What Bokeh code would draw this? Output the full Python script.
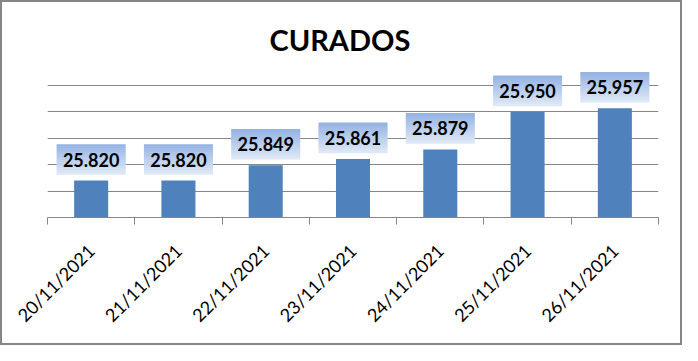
from math import pi
from bokeh.plotting import figure
from bokeh.models import (FactorRange, Range1d, LinearAxis, CategoricalAxis,
                          FixedTicker, Grid, ColumnDataSource, CustomLabelingPolicy)
from bokeh.core.properties import value
from bokeh.embed import file_html
from bokeh.resources import INLINE

# ---- data ----
dates = ["20/11/2021", "21/11/2021", "22/11/2021", "23/11/2021",
         "24/11/2021", "25/11/2021", "26/11/2021"]
cured = [25820, 25820, 25849, 25861, 25879, 25950, 25957]
grid_ticks = [25800, 25850, 25900, 25950, 26000]
axis_min = 25750
axis_max = 26000
title_text = "CURADOS"

labels = [f"{v:,}".replace(",", ".") for v in cured]

# ---- layout ----
FRAME_W = 611
FRAME_H = 151
TOP_PAD = 19          # px above the top gridline (room for labels)
ppu = (FRAME_H - TOP_PAD) / (axis_max - axis_min)
y_end = axis_max + TOP_PAD / ppu

GRID_COLOR = "#868686"
BAR_COLOR = "#4F81BD"
FONT = "Lato"

p = figure(x_range=FactorRange(factors=dates, range_padding=0),
           y_range=Range1d(axis_min, y_end),
           frame_width=FRAME_W, frame_height=FRAME_H,
           min_border_left=45, min_border_right=22,
           min_border_top=64, min_border_bottom=126,
           x_axis_location=None, y_axis_location=None,
           toolbar_location=None, output_backend="svg",
           background_fill_color="white", border_fill_color="white")
p.outline_line_color = None
p.styles = {"border": f"2px solid {GRID_COLOR}"}

# title
p.title.text = title_text
p.title.text_font = FONT
p.title.text_font_size = "29px"
p.title.text_font_style = "bold"
p.title.text_color = "black"
p.title.align = "left"
p.title.offset = 222
p.title.standoff = 20

# grids (only horizontal ones)
ygrid = Grid(dimension=1, ticker=FixedTicker(ticks=grid_ticks),
             grid_line_color=GRID_COLOR, grid_line_width=1)
p.center = [ygrid]

# axes: boundary tick marks (between categories) + category labels
no_labels = CustomLabelingPolicy(code="""
try { for (let i = 0; i < indices.size; i++) { indices.unset(i) } } catch (e) {}
return indices
""")
tick_axis = LinearAxis(ticker=FixedTicker(ticks=list(range(len(dates) + 1)), minor_ticks=[]),
                       axis_line_color=GRID_COLOR, axis_line_width=1,
                       major_tick_line_color=GRID_COLOR, major_tick_in=0, major_tick_out=7,
                       minor_tick_line_color=None,
                       major_label_policy=no_labels,
                       major_label_text_font_size="1px", major_label_standoff=0)
cat_axis = CategoricalAxis(axis_line_color=None, major_tick_line_color=None,
                           minor_tick_line_color=None,
                           major_label_orientation=pi / 4,
                           major_label_text_font=FONT,
                           major_label_text_font_size="18px",
                           major_label_text_color="black",
                           major_label_standoff=13)
p.add_layout(tick_axis, "below")
p.add_layout(cat_axis, "below")

# bars
src = ColumnDataSource(dict(x=dates, top=cured, label=labels))
p.vbar(x="x", top="top", bottom=axis_min, width=0.39, source=src,
       fill_color=BAR_COLOR, line_color=None)

# label boxes with vertical gradient (stacked bands)
BOX_W = 69
BOX_H = 30
BOX_OFF = 21   # px from bar top to box centre
N = 15
top_rgb = (149, 179, 227)
bot_rgb = (221, 231, 245)
band_h = BOX_H / N
for k in range(N):
    t = k / (N - 1)
    col = "#%02x%02x%02x" % tuple(int(round(a + (b - a) * t)) for a, b in zip(top_rgb, bot_rgb))
    off_px = BOX_OFF + BOX_H / 2 - band_h * (k + 0.5)
    ys = [v + off_px / ppu for v in cured]
    p.rect(x=dates, y=ys, width=BOX_W, height=band_h + 0.6,
           width_units="screen", height_units="screen",
           fill_color=col, line_color=None)

p.text(x="x", y="top", text="label", source=src, y_offset=-BOX_OFF,
       text_align="center", text_baseline="middle",
       text_font=value(FONT), text_font_size="18px", text_font_style="bold",
       text_color="black")

open("out.html", "w").write(file_html(p, INLINE))
